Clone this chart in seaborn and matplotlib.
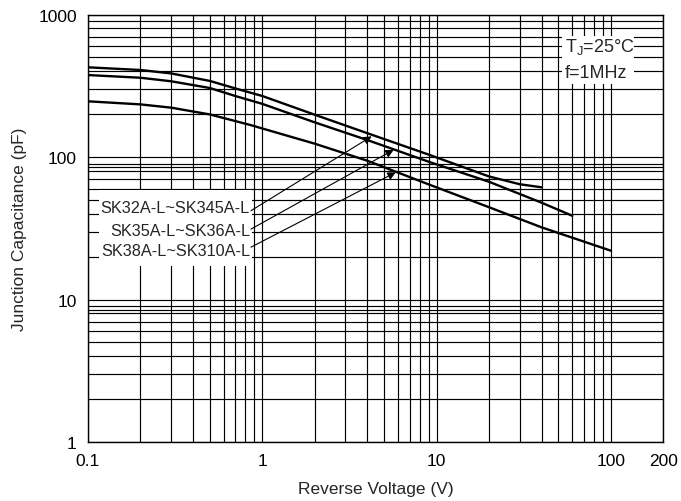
import matplotlib
matplotlib.use("Agg")
import pandas as pd
import seaborn as sns
import matplotlib.pyplot as plt
from matplotlib.ticker import FixedLocator, NullFormatter
from matplotlib.patches import Rectangle

# values
series_names = ["SK32A-L~SK345A-L", "SK35A-L~SK36A-L", "SK38A-L~SK310A-L"]
v_sk32 = [0.1, 0.2, 0.3, 0.5, 0.7, 1, 2, 4, 9.2, 20, 30, 40]
c_sk32 = [426, 408, 386, 342, 303, 268, 198, 147, 103, 73, 64.4, 61.3]
v_sk35 = [0.1, 0.2, 0.3, 0.5, 0.7, 1, 2, 4, 9.2, 20, 40, 60]
c_sk35 = [376, 360, 340, 305, 268, 236, 175, 131.6, 91.8, 67, 47.8, 38.7]
v_sk38 = [0.1, 0.2, 0.3, 0.5, 0.85, 2, 4, 9.2, 20, 40, 100]
c_sk38 = [246, 234, 222, 199, 168, 124, 94.2, 63.6, 44.4, 32.1, 22.0]

x_ticks = [0.1, 1, 10, 100, 200]
x_tick_labels = ["0.1", "1", "10", "100", "200"]
y_ticks = [1, 10, 100, 1000]
y_tick_labels = ["1", "10", "100", "1000"]
x_grid = [k * 10.0 ** e for e in (-1, 0, 1) for k in range(1, 10)] + [100]
y_grid = [k * 10.0 ** e for e in (0, 1, 2) for k in range(1, 10)] + [8.5, 85, 1000]

# arrow tips on the curves and the points where the leader lines start
arrow_tips = [(4.24, 139.7), (5.67, 112.4), (5.83, 78.1)]
arrow_starts = [(0.861, 42.0), (0.861, 31.2), (0.861, 23.3)]
label_y = [0.5474, 0.4944, 0.4475]

df = pd.concat([
    pd.DataFrame({"voltage": v_sk32, "capacitance": c_sk32, "series": series_names[0]}),
    pd.DataFrame({"voltage": v_sk35, "capacitance": c_sk35, "series": series_names[1]}),
    pd.DataFrame({"voltage": v_sk38, "capacitance": c_sk38, "series": series_names[2]}),
])

sns.set_style("white")
plt.rcParams["font.family"] = ["Liberation Sans", "DejaVu Sans"]

fig = plt.figure(figsize=(6.81, 5.02), dpi=100)
ax = fig.add_axes([0.1292, 0.1175, 0.845, 0.8516])
ax.set_xscale("log")
ax.set_yscale("log")

sns.lineplot(data=df, x="voltage", y="capacitance", hue="series",
             palette=["black"] * 3, estimator=None, legend=False,
             lw=1.7, ax=ax, zorder=3)

ax.set_xlim(0.1, 200)
ax.set_ylim(1, 1000)
ax.set_xticks(x_ticks, labels=x_tick_labels)
ax.set_yticks(y_ticks, labels=y_tick_labels)
ax.xaxis.set_minor_locator(FixedLocator(x_grid))
ax.yaxis.set_minor_locator(FixedLocator(y_grid))
ax.xaxis.set_minor_formatter(NullFormatter())
ax.yaxis.set_minor_formatter(NullFormatter())
ax.tick_params(which="both", length=0, labelsize=12.5, colors="black")
ax.tick_params(axis="x", pad=8)
ax.tick_params(axis="y", pad=8)
ax.set_axisbelow(True)
ax.grid(which="both", color="black", lw=0.85)
for s in ax.spines.values():
    s.set_color("black")
    s.set_linewidth(1.0)

ax.set_xlabel("Reverse Voltage (V)", fontsize=12.5, labelpad=9)
ax.set_ylabel("Junction Capacitance (pF)", fontsize=12.5, labelpad=8)

# white blocks behind the annotations
ax.add_patch(Rectangle((0.0191, 0.4117), 0.2655, 0.1778, transform=ax.transAxes,
                       facecolor="white", edgecolor="none", zorder=1.5))
ax.add_patch(Rectangle((0.8238, 0.8374), 0.1254, 0.1123, transform=ax.transAxes,
                       facecolor="white", edgecolor="none", zorder=1.5))

for name, yy in zip(series_names, label_y):
    ax.text(0.2815, yy, name, transform=ax.transAxes, ha="right", va="center",
            fontsize=11.7, zorder=4)
for tip, start in zip(arrow_tips, arrow_starts):
    ax.annotate("", xy=tip, xytext=start,
                arrowprops=dict(arrowstyle="-|>", color="black", lw=0.8,
                                mutation_scale=12, shrinkA=0, shrinkB=0),
                zorder=4)

ax.text(0.829, 0.9252, r"T$_\mathregular{J}$=25°C", transform=ax.transAxes,
        ha="left", va="center", fontsize=13, zorder=4)
ax.text(0.829, 0.8648, "f=1MHz", transform=ax.transAxes,
        ha="left", va="center", fontsize=13, zorder=4)

fig.savefig("out.png", dpi=100)
